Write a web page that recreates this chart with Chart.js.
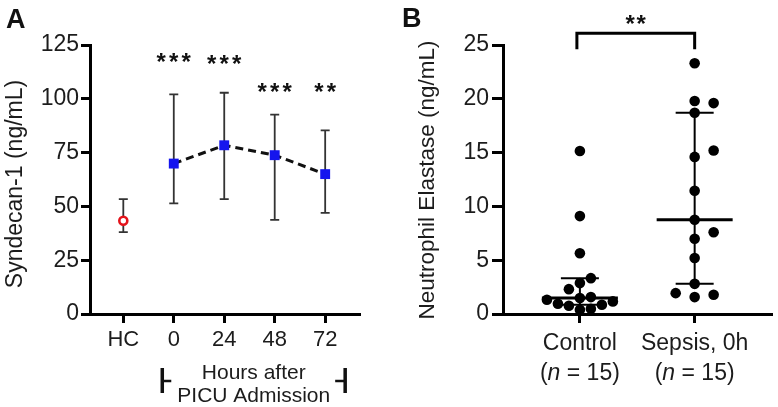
<!DOCTYPE html>
<html><head><meta charset="utf-8">
<script src="https://cdn.jsdelivr.net/npm/chart.js@4"></script>
<style>
html,body{margin:0;padding:0;background:#fff;}
#wrap{position:relative;width:778px;height:407px;overflow:hidden;background:#fff;}
.panel{position:absolute;top:0;width:389px;height:407px;}
canvas{display:block;}
</style></head><body>
<div id="wrap">
<div class="panel" style="left:0"><canvas id="chartA" width="389" height="407"></canvas></div>
<div class="panel" style="left:389px"><canvas id="chartB" width="389" height="407"></canvas></div>
</div>
<script>
// ---------- Panel A data ----------
const timeLabels = ['HC', '0', '24', '48', '72'];
const hcMean = [43.3];
const hcUpper = [53.4];
const hcLower = [38.0];
const sepsisMean = [69.9, 78.4, 73.8, 65.0];
const sepsisUpper = [102.1, 102.8, 92.6, 85.3];
const sepsisLower = [51.4, 53.4, 43.7, 47.0];
const sigStarsA = ['***', '***', '***', '**'];
const sigLevelA = [119.2, 118.4, 105.3, 105.3];
const yTicksA = [0, 25, 50, 75, 100, 125];

// ---------- Panel B data ----------
const groupLabels = ['Control', 'Sepsis, 0h'];
const groupN = [15, 15];
const controlValues = [15.15, 9.1, 5.65, 3.33, 2.87, 2.31, 1.57, 1.48, 1.32, 1.17, 0.95, 0.86, 0.77, 0.49, 0.40];
const sepsisValues = [23.3, 19.8, 19.6, 18.7, 15.2, 14.6, 11.45, 8.76, 7.6, 7.0, 5.2, 2.8, 1.94, 1.79, 1.57];
const sigStarsB = '**';
const yTicksB = [0, 5, 10, 15, 20, 25];

const FONT = '"Liberation Sans", Arial, Helvetica, sans-serif';
const TXT = '#1c1c1c';
Chart.defaults.font.family = FONT;
Chart.defaults.color = TXT;

// layout constants (pixels)
const A = {top: 45, yW: 90, xH: 93, right: 29};
const B = {top: 45, yW: 114, xH: 93, right: 5};
const plotH = 407 - A.top - A.xH;
const xMinB = 0.33, xMaxB = 2.68, yMaxB = 25;
const plotWB = 389 - B.yW - B.right;

function quantile(sorted, p) {
  const n = sorted.length;
  const pos = (n + 1) * p;
  const lo = Math.floor(pos), hi = Math.ceil(pos);
  if (lo < 1) return sorted[0];
  if (hi > n) return sorted[n - 1];
  return sorted[lo - 1] + (pos - lo) * (sorted[hi - 1] - sorted[lo - 1]);
}

function swarm(values, center, stepPx, diam) {
  const pxX = plotWB / (xMaxB - xMinB), pxY = plotH / yMaxB;
  const order = values.map((v, i) => i).sort((a, b) => values[a] - values[b]);
  const placed = [];
  const off = new Array(values.length).fill(0);
  for (const i of order) {
    const y = values[i] * pxY;
    for (let k = 0; k < 60; k++) {
      const o = k === 0 ? 0 : (k % 2 ? 1 : -1) * Math.ceil(k / 2) * stepPx;
      if (placed.every(p => Math.hypot(p.x - o, p.y - y) >= diam)) {
        off[i] = o; placed.push({x: o, y}); break;
      }
    }
  }
  return values.map((v, i) => ({x: center + off[i] / pxX, y: v}));
}

function drawStars(ctx, str, cx, cy, spacing) {
  ctx.save();
  ctx.font = 'bold 24px ' + FONT;
  ctx.fillStyle = '#111';
  ctx.textAlign = 'center';
  ctx.textBaseline = 'alphabetic';
  const m = ctx.measureText('*');
  const base = cy + (m.actualBoundingBoxAscent - m.actualBoundingBoxDescent) / 2;
  const n = str.length;
  for (let i = 0; i < n; i++) {
    ctx.fillText('*', cx + (i - (n - 1) / 2) * spacing, base);
  }
  ctx.restore();
}

function vTitle(ctx, text, cx, cy, size) {
  ctx.save();
  ctx.translate(cx, cy);
  ctx.rotate(-Math.PI / 2);
  ctx.font = size + 'px ' + FONT;
  ctx.fillStyle = TXT;
  ctx.textAlign = 'center';
  ctx.textBaseline = 'middle';
  ctx.fillText(text, 0, 0);
  ctx.restore();
}

const axisGrid = (len) => ({display: true, drawOnChartArea: false, drawTicks: true, tickLength: len, tickWidth: 3, tickColor: '#000'});
const axisBorder = {display: true, width: 3, color: '#000'};

// ---------- Chart A ----------
const pluginA = {
  id: 'pA',
  beforeDatasetsDraw(chart) {
    const {ctx, scales: {x, y}} = chart;
    ctx.save();
    ctx.strokeStyle = '#333';
    ctx.lineWidth = 1.8;
    const bars = [{i: 0, lo: hcLower[0], hi: hcUpper[0]}].concat(
      sepsisMean.map((m, k) => ({i: k + 1, lo: sepsisLower[k], hi: sepsisUpper[k]})));
    bars.forEach(b => {
      const px = x.getPixelForValue(b.i);
      const y1 = y.getPixelForValue(b.lo), y2 = y.getPixelForValue(b.hi);
      ctx.beginPath();
      ctx.moveTo(px, y1); ctx.lineTo(px, y2);
      ctx.moveTo(px - 4.5, y1); ctx.lineTo(px + 4.5, y1);
      ctx.moveTo(px - 4.5, y2); ctx.lineTo(px + 4.5, y2);
      ctx.stroke();
    });
    ctx.restore();
  },
  afterDraw(chart) {
    const {ctx, scales: {x, y}} = chart;
    ctx.save();
    ctx.font = 'bold 27px ' + FONT;
    ctx.fillStyle = '#111';
    ctx.textBaseline = 'alphabetic';
    ctx.fillText('A', 6, 28);
    ctx.restore();
    sigStarsA.forEach((s, k) => {
      drawStars(ctx, s, x.getPixelForValue(k + 1), y.getPixelForValue(sigLevelA[k]), 12.5);
    });
    vTitle(ctx, 'Syndecan-1 (ng/mL)', 16, 184, 23);
    const left = x.getPixelForValue(1) - 11.5;
    const right = x.getPixelForValue(4) + 20;
    const top = 368, bot = 393, mid = 381;
    ctx.save();
    ctx.strokeStyle = '#111';
    ctx.lineWidth = 3.5;
    ctx.beginPath();
    ctx.moveTo(left, top); ctx.lineTo(left, bot);
    ctx.moveTo(right, top); ctx.lineTo(right, bot);
    ctx.stroke();
    ctx.lineWidth = 2.5;
    ctx.beginPath();
    ctx.moveTo(left, mid); ctx.lineTo(left + 9, mid);
    ctx.moveTo(right, mid); ctx.lineTo(right - 10, mid);
    ctx.stroke();
    ctx.font = '21px ' + FONT;
    ctx.fillStyle = TXT;
    ctx.textAlign = 'center';
    ctx.textBaseline = 'alphabetic';
    const cx = (left + right) / 2;
    ctx.fillText('Hours after', cx, 378.5);
    ctx.fillText('PICU Admission', cx, 401.5);
    ctx.restore();
  }
};

new Chart(document.getElementById('chartA'), {
  type: 'scatter',
  data: {
    datasets: [
      {
        label: 'HC',
        data: hcMean.map(v => ({x: 0, y: v})),
        showLine: false,
        pointStyle: 'circle',
        pointRadius: 4,
        pointBorderWidth: 2.6,
        pointBorderColor: '#e4131b',
        pointBackgroundColor: '#ffffff'
      },
      {
        label: 'Sepsis',
        data: sepsisMean.map((v, k) => ({x: k + 1, y: v})),
        showLine: true,
        borderColor: '#111',
        borderWidth: 3,
        borderDash: [8, 5],
        pointStyle: 'rect',
        pointRadius: 7,
        pointBorderWidth: 0,
        pointBackgroundColor: '#1515ee',
        pointBorderColor: '#1515ee'
      }
    ]
  },
  options: {
    responsive: false,
    animation: false,
    events: [],
    layout: {padding: {left: 0, top: A.top, right: A.right, bottom: 0}},
    plugins: {legend: {display: false}, tooltip: {enabled: false}, title: {display: false}},
    scales: {
      x: {
        type: 'linear', min: -0.66, max: 4.69,
        afterBuildTicks: s => { s.ticks = timeLabels.map((_, i) => ({value: i})); },
        afterFit: s => { s.height = A.xH; },
        ticks: {callback: v => timeLabels[v], font: {size: 22}, color: TXT, padding: 4, autoSkip: false, maxRotation: 0},
        grid: axisGrid(9),
        border: axisBorder
      },
      y: {
        type: 'linear', min: 0, max: 125,
        afterBuildTicks: s => { s.ticks = yTicksA.map(v => ({value: v})); },
        afterFit: s => { s.width = A.yW; },
        ticks: {font: {size: 23}, color: TXT, padding: 2},
        grid: axisGrid(9),
        border: axisBorder
      }
    }
  },
  plugins: [pluginA]
});

// ---------- Chart B ----------
const groups = [controlValues, sepsisValues];
const pluginB = {
  id: 'pB',
  beforeDatasetsDraw(chart) {
    const {ctx, scales: {x, y}} = chart;
    ctx.save();
    ctx.strokeStyle = '#000';
    groups.forEach((vals, g) => {
      const s = vals.slice().sort((a, b) => a - b);
      const med = quantile(s, 0.5), q1 = quantile(s, 0.25), q3 = quantile(s, 0.75);
      const px = x.getPixelForValue(g + 1);
      const yM = y.getPixelForValue(med), y1 = y.getPixelForValue(q1), y3 = y.getPixelForValue(q3);
      ctx.lineWidth = 2;
      ctx.beginPath();
      ctx.moveTo(px, y1); ctx.lineTo(px, y3);
      ctx.moveTo(px - 19, y1); ctx.lineTo(px + 19, y1);
      ctx.moveTo(px - 19, y3); ctx.lineTo(px + 19, y3);
      ctx.stroke();
      ctx.lineWidth = 3;
      ctx.beginPath();
      ctx.moveTo(px - 38, yM); ctx.lineTo(px + 38, yM);
      ctx.stroke();
    });
    ctx.restore();
  },
  afterDraw(chart) {
    const {ctx, scales: {x, y}} = chart;
    ctx.save();
    ctx.font = 'bold 27px ' + FONT;
    ctx.fillStyle = '#111';
    ctx.textBaseline = 'alphabetic';
    ctx.fillText('B', 13, 27);
    ctx.restore();
    vTitle(ctx, 'Neutrophil Elastase (ng/mL)', 39, 180, 22.5);
    const xl = x.getPixelForValue(1) - 3, xr = x.getPixelForValue(2);
    const yt = y.getPixelForValue(26.1), yb = y.getPixelForValue(24.6);
    ctx.save();
    ctx.strokeStyle = '#000';
    ctx.lineWidth = 3;
    ctx.beginPath();
    ctx.moveTo(xl, yb); ctx.lineTo(xl, yt); ctx.lineTo(xr, yt); ctx.lineTo(xr, yb);
    ctx.stroke();
    ctx.restore();
    drawStars(ctx, sigStarsB, (xl + xr) / 2, 19, 11);
    ctx.save();
    ctx.fillStyle = TXT;
    ctx.textBaseline = 'alphabetic';
    groupN.forEach((n, g) => {
      const parts = [['(', 'normal'], ['n', 'italic'], [' = ' + n + ')', 'normal']];
      let total = 0;
      parts.forEach(p => { ctx.font = p[1] + ' 23px ' + FONT; total += ctx.measureText(p[0]).width; });
      let cx = x.getPixelForValue(g + 1) - total / 2;
      parts.forEach(p => {
        ctx.font = p[1] + ' 23px ' + FONT;
        ctx.textAlign = 'left';
        ctx.fillText(p[0], cx, 379.5);
        cx += ctx.measureText(p[0]).width;
      });
    });
    ctx.restore();
  }
};

new Chart(document.getElementById('chartB'), {
  type: 'scatter',
  data: {
    datasets: [
      {label: 'Control', data: swarm(controlValues, 1, 11, 10.8), pointRadius: 5.3, pointBorderWidth: 0, pointBackgroundColor: '#000', pointBorderColor: '#000'},
      {label: 'Sepsis, 0h', data: swarm(sepsisValues, 2, 19, 10.8), pointRadius: 5.3, pointBorderWidth: 0, pointBackgroundColor: '#000', pointBorderColor: '#000'}
    ]
  },
  options: {
    responsive: false,
    animation: false,
    events: [],
    layout: {padding: {left: 0, top: B.top, right: B.right, bottom: 0}},
    plugins: {legend: {display: false}, tooltip: {enabled: false}, title: {display: false}},
    scales: {
      x: {
        type: 'linear', min: xMinB, max: xMaxB,
        afterBuildTicks: s => { s.ticks = groupLabels.map((_, i) => ({value: i + 1})); },
        afterFit: s => { s.height = B.xH; },
        ticks: {callback: v => groupLabels[v - 1], font: {size: 23}, color: TXT, padding: 7, autoSkip: false, maxRotation: 0},
        grid: axisGrid(9),
        border: axisBorder
      },
      y: {
        type: 'linear', min: 0, max: yMaxB,
        afterBuildTicks: s => { s.ticks = yTicksB.map(v => ({value: v})); },
        afterFit: s => { s.width = B.yW; },
        ticks: {font: {size: 23}, color: TXT, padding: 3},
        grid: axisGrid(11),
        border: axisBorder
      }
    }
  },
  plugins: [pluginB]
});
</script>
</body></html>
